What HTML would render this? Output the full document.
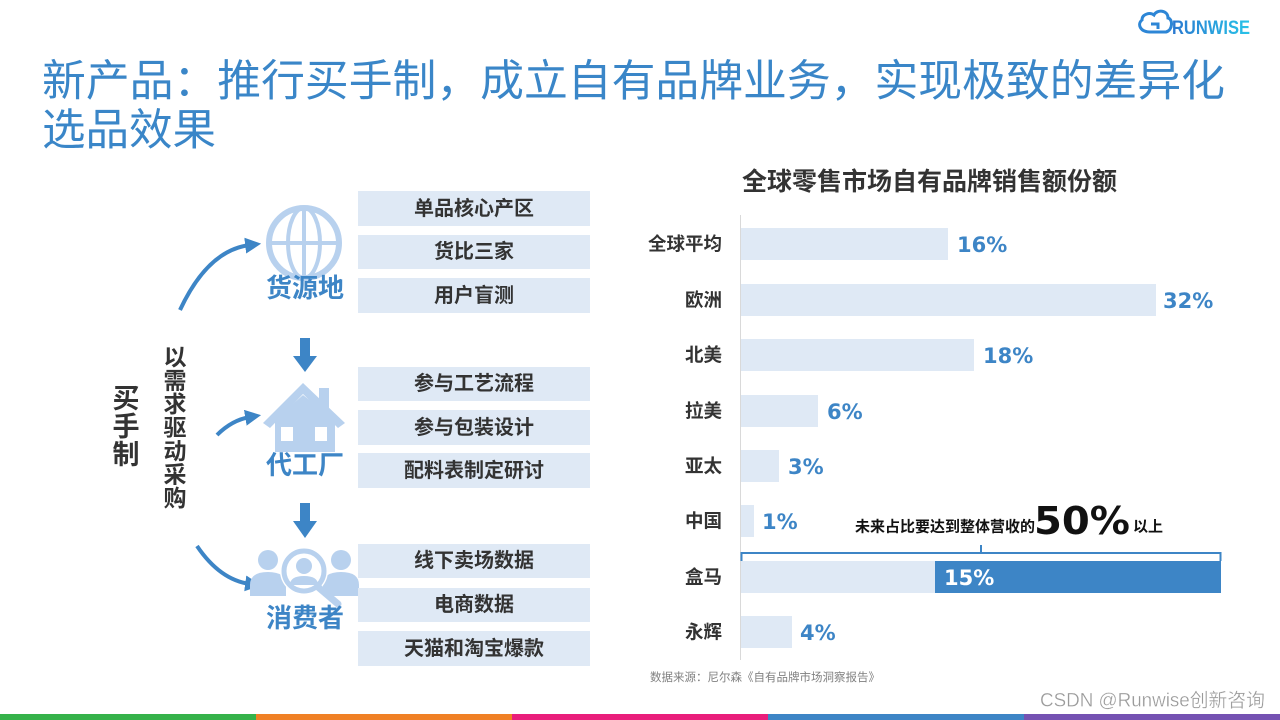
<!DOCTYPE html>
<html><head><meta charset="utf-8"><style>
html,body{margin:0;padding:0;background:#fff;}
svg{display:block;}
.cj{font-family:"Liberation Sans","Noto Sans CJK SC",sans-serif;}
</style></head><body>
<svg width="1280" height="720" viewBox="0 0 1280 720" xmlns="http://www.w3.org/2000/svg">
<defs>
<linearGradient id="lg" x1="0" x2="1" y1="0" y2="0"><stop offset="0" stop-color="#2a78d0"/><stop offset="1" stop-color="#29c3e8"/></linearGradient>
<marker id="ah" markerUnits="userSpaceOnUse" markerWidth="16" markerHeight="16" viewBox="0 0 10 10" refX="3" refY="5" orient="auto"><path d="M0,0 L10,5 L0,10 z" fill="#3d85c6"/></marker>
</defs>
<rect width="1280" height="720" fill="#fff"/>

<!-- logo -->
<g fill="none" stroke="#2d86d6" stroke-width="3">
<path d="M1150,32 C1140,32 1137,24 1142,20 C1142,14 1150,12 1154,15 C1157,9 1168,10 1168,18 C1173,19 1173,30 1166,32 Z"/>
<path d="M1151,24 L1158,24 L1158,29"/>
</g>
<text x="1172" y="34" font-family="Liberation Sans" font-weight="700" font-size="19" fill="url(#lg)" textLength="78" lengthAdjust="spacingAndGlyphs">RUNWISE</text>

<!-- title -->
<g class="cj" font-size="43.5" fill="#3a86c8">
<text x="42" y="82" dominant-baseline="central" textLength="1183" lengthAdjust="spacingAndGlyphs">新产品：推行买手制，成立自有品牌业务，实现极致的差异化</text>
<text x="42" y="131" dominant-baseline="central">选品效果</text>
</g>

<!-- left side vertical texts -->
<g class="cj" font-weight="700" fill="#333" text-anchor="middle">
<text x="126" y="399" font-size="27" dominant-baseline="central">买</text>
<text x="126" y="427" font-size="27" dominant-baseline="central">手</text>
<text x="126" y="455" font-size="27" dominant-baseline="central">制</text>
<g font-size="23">
<text x="175" y="357" dominant-baseline="central">以</text>
<text x="175" y="380.5" dominant-baseline="central">需</text>
<text x="175" y="404" dominant-baseline="central">求</text>
<text x="175" y="427.5" dominant-baseline="central">驱</text>
<text x="175" y="451" dominant-baseline="central">动</text>
<text x="175" y="474.5" dominant-baseline="central">采</text>
<text x="175" y="498" dominant-baseline="central">购</text>
</g>
</g>

<!-- curved arrows -->
<g fill="none" stroke="#3d85c6" stroke-width="4">
<path d="M180,310 Q208,250 250,245" marker-end="url(#ah)"/>
<path d="M217,435 Q232,420 250,417" marker-end="url(#ah)"/>
<path d="M197,546 Q220,580 250,584" marker-end="url(#ah)"/>
</g>

<!-- globe icon -->
<g fill="none" stroke="#b8d1ee">
<circle cx="304" cy="243" r="35" stroke-width="6"/>
<ellipse cx="304" cy="243" rx="16" ry="35" stroke-width="4"/>
<line x1="269" y1="243" x2="339" y2="243" stroke-width="4"/>
<line x1="304" y1="208" x2="304" y2="278" stroke-width="4"/>
</g>

<!-- house icon -->
<g fill="#b8d1ee">
<rect x="319" y="388" width="10" height="20"/>
<path d="M263,423 L303,383 L345,423 L338,428 L303,394 L270,428 Z"/>
<path d="M275,420 L303,395 L335,420 L335,452 L275,452 Z"/>
<rect x="281" y="427" width="12" height="14" fill="#fff"/>
<rect x="315" y="427" width="12" height="14" fill="#fff"/>
</g>

<!-- people icon -->
<g fill="#b8d1ee">
<circle cx="268" cy="560" r="10"/>
<path d="M250,596 L250,585 Q250,572 268,572 Q286,572 286,585 L286,596 Z"/>
<circle cx="341" cy="560" r="10"/>
<path d="M323,596 L323,585 Q323,572 341,572 Q359,572 359,585 L359,596 Z"/>
<circle cx="304" cy="571" r="24" fill="#fff"/>
<circle cx="304" cy="566" r="8"/>
<path d="M290,585 Q290,576 304,576 Q318,576 318,585 Z"/>
</g>
<circle cx="304" cy="571" r="20" fill="none" stroke="#b8d1ee" stroke-width="5"/>
<line x1="318" y1="587" x2="338" y2="604" stroke="#b8d1ee" stroke-width="7" stroke-linecap="round"/>

<!-- icon labels -->
<g class="cj" font-weight="700" font-size="26" fill="#3d85c6" text-anchor="middle">
<text x="305" y="288" dominant-baseline="central">货源地</text>
<text x="305" y="465" dominant-baseline="central">代工厂</text>
<text x="305" y="618" dominant-baseline="central">消费者</text>
</g>

<!-- down arrows -->
<g fill="#3d85c6">
<rect x="300" y="338" width="10" height="20"/>
<path d="M293,356 L317,356 L305,372 Z"/>
<rect x="300" y="503" width="10" height="20"/>
<path d="M293,521 L317,521 L305,538 Z"/>
</g>

<!-- boxes -->
<g fill="#dfe9f5">
<rect x="358" y="191" width="232" height="35"/>
<rect x="358" y="235" width="232" height="34"/>
<rect x="358" y="278" width="232" height="35"/>
<rect x="358" y="367" width="232" height="34"/>
<rect x="358" y="410" width="232" height="35"/>
<rect x="358" y="453" width="232" height="35"/>
<rect x="358" y="544" width="232" height="34"/>
<rect x="358" y="588" width="232" height="34"/>
<rect x="358" y="631" width="232" height="35"/>
</g>
<g class="cj" font-weight="700" font-size="20" fill="#333" text-anchor="middle">
<text x="474" y="209" dominant-baseline="central">单品核心产区</text>
<text x="474" y="252" dominant-baseline="central">货比三家</text>
<text x="474" y="296" dominant-baseline="central">用户盲测</text>
<text x="474" y="384" dominant-baseline="central">参与工艺流程</text>
<text x="474" y="428" dominant-baseline="central">参与包装设计</text>
<text x="474" y="471" dominant-baseline="central">配料表制定研讨</text>
<text x="474" y="561" dominant-baseline="central">线下卖场数据</text>
<text x="474" y="605" dominant-baseline="central">电商数据</text>
<text x="474" y="649" dominant-baseline="central">天猫和淘宝爆款</text>
</g>

<!-- chart -->
<text x="742" y="182" class="cj" font-weight="700" font-size="25" fill="#333" dominant-baseline="central">全球零售市场自有品牌销售额份额</text>
<line x1="740.5" y1="215" x2="740.5" y2="660" stroke="#d9d9d9" stroke-width="1"/>
<g fill="#dfe9f5">
<rect x="741" y="228" width="207" height="32"/>
<rect x="741" y="284" width="415" height="32"/>
<rect x="741" y="339" width="233" height="32"/>
<rect x="741" y="395" width="77" height="32"/>
<rect x="741" y="450" width="38" height="32"/>
<rect x="741" y="505" width="13" height="32"/>
<rect x="741" y="561" width="194" height="32"/>
<rect x="741" y="616" width="51" height="32"/>
</g>
<rect x="935" y="561" width="286" height="32" fill="#3d85c6"/>
<g class="cj" font-weight="700" font-size="18.5" fill="#333" text-anchor="end">
<text x="722" y="244" dominant-baseline="central">全球平均</text>
<text x="722" y="300" dominant-baseline="central">欧洲</text>
<text x="722" y="355" dominant-baseline="central">北美</text>
<text x="722" y="411" dominant-baseline="central">拉美</text>
<text x="722" y="466" dominant-baseline="central">亚太</text>
<text x="722" y="521" dominant-baseline="central">中国</text>
<text x="722" y="577" dominant-baseline="central">盒马</text>
<text x="722" y="632" dominant-baseline="central">永辉</text>
</g>
<g font-family="DejaVu Sans" font-weight="700" font-size="21" fill="#3d85c6">
<text x="957" y="245" dominant-baseline="central">16%</text>
<text x="1163" y="301" dominant-baseline="central">32%</text>
<text x="983" y="356" dominant-baseline="central">18%</text>
<text x="827" y="412" dominant-baseline="central">6%</text>
<text x="788" y="467" dominant-baseline="central">3%</text>
<text x="762" y="522" dominant-baseline="central">1%</text>
<text x="944" y="578" dominant-baseline="central" fill="#fff">15%</text>
<text x="800" y="633" dominant-baseline="central">4%</text>
</g>

<!-- bracket & annotation -->
<path d="M741.5,561 L741.5,553 L1220.5,553 L1220.5,561 M981,553 L981,545" fill="none" stroke="#3d85c6" stroke-width="2"/>
<text x="855" y="527" class="cj" font-weight="700" font-size="15" fill="#111" dominant-baseline="central">未来占比要达到整体营收的</text>
<text x="1034" y="521" font-family="DejaVu Sans" font-weight="700" font-size="38" fill="#111" dominant-baseline="central" textLength="96" lengthAdjust="spacingAndGlyphs">50%</text>
<text x="1133" y="527" class="cj" font-weight="700" font-size="15" fill="#111" dominant-baseline="central">以上</text>

<text x="650" y="678" class="cj" font-size="11.5" fill="#808080" dominant-baseline="central">数据来源：尼尔森《自有品牌市场洞察报告》</text>

<!-- watermark -->
<text x="1040" y="701" class="cj" font-size="19" fill="#9a9a9a" stroke="#fff" stroke-width="0.3" dominant-baseline="central" textLength="225" lengthAdjust="spacingAndGlyphs">CSDN @Runwise创新咨询</text>

<!-- bottom stripe -->
<rect x="0" y="714" width="256" height="6" fill="#35b24a"/>
<rect x="256" y="714" width="256" height="6" fill="#f08025"/>
<rect x="512" y="714" width="256" height="6" fill="#e91e7b"/>
<rect x="768" y="714" width="256" height="6" fill="#3d85c6"/>
<rect x="1024" y="714" width="256" height="6" fill="#7552b2"/>
</svg>
</body></html>
